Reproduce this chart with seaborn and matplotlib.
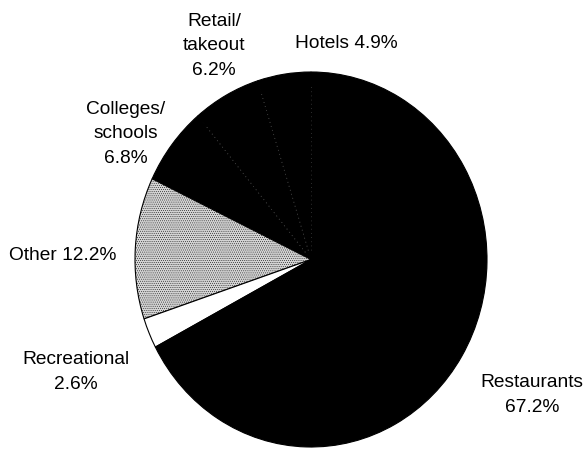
import numpy as np
import matplotlib
matplotlib.use("Agg")
import matplotlib.pyplot as plt
import seaborn as sns

# ---------------------------------------------------------
# data (shares of food service sales, %)
# ---------------------------------------------------------
segments = ["Hotels", "Retail/\ntakeout", "Colleges/\nschools", "Other",
            "Recreational", "Restaurants"]
shares = [4.9, 6.2, 6.8, 12.2, 2.6, 67.2]
label_text = ["Hotels 4.9%", "Retail/\ntakeout\n6.2%", "Colleges/\nschools\n6.8%",
              "Other 12.2%", "Recreational\n2.6%", "Restaurants\n67.2%"]

# label centres in image pixels (x from left, y from top)
label_xy = [(346, 43), (214, 46), (126, 134), (63, 256), (76, 372), (532, 395)]
fill = ["black", "black", "black", "#d4d4d4", "white", "black"]

sns.set_theme(style="white")
plt.rcParams["font.family"] = ["Liberation Sans", "DejaVu Sans"]
plt.rcParams["hatch.linewidth"] = 0.3

W, H = 587, 449
fig = plt.figure(figsize=(W / 100, H / 100), dpi=100)
ax = fig.add_axes([0, 0, 1, 1])

# pie is slightly taller than wide in the scan
cx, cy, rx, ry = 311, 259.5, 176, 187.5

wedges, _ = ax.pie(shares, colors=fill, startangle=90, counterclock=True,
                   radius=1, center=(0, 0),
                   wedgeprops=dict(linewidth=0.8, edgecolor="black"))

# stippled "Other"
wedges[3].set_hatch("........")

# faint dotted seams between the black slices
for w in wedges[:3]:
    for t in (w.theta1, w.theta2):
        if abs(t - wedges[3].theta1) < 1e-6:
            continue
        a = np.deg2rad(t)
        ax.plot([0.05 * np.cos(a), 0.93 * np.cos(a)],
                [0.05 * np.sin(a), 0.93 * np.sin(a)],
                color="#3c3c3c", lw=0.6, ls=(0, (1, 4)))

ax.set_xlim(-cx / rx, (W - cx) / rx)
ax.set_ylim((cy - H) / ry, cy / ry)
ax.set_aspect("auto")
ax.axis("off")

for txt, (px, py) in zip(label_text, label_xy):
    fig.text(px / W, 1 - py / H, txt, ha="center", va="center",
             fontsize=13.8, linespacing=1.55, color="black")

fig.savefig("out.png", dpi=100)
